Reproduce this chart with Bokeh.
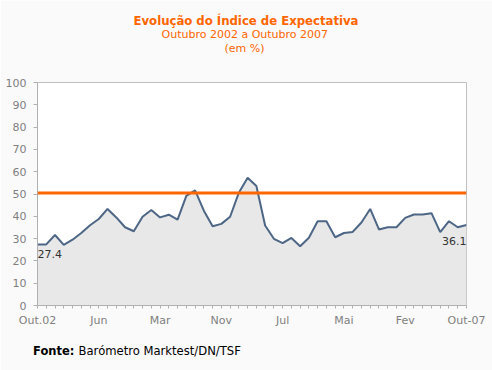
from bokeh.plotting import figure
from bokeh.models import FixedTicker, Span, Title, ColumnDataSource, LinearAxis
from bokeh.core.properties import value
from bokeh.embed import file_html
from bokeh.resources import INLINE

# ---- data ----
values = [27.4, 27.4, 31.6, 27.2, 29.5, 32.5, 36.0, 38.8, 43.3, 39.5,
          35.1, 33.3, 39.8, 42.8, 39.5, 40.7, 38.5, 49.2, 51.6, 42.5,
          35.5, 36.6, 39.8, 50.6, 57.3, 53.6, 35.9, 29.9, 28.0, 30.3,
          26.6, 30.4, 37.8, 37.8, 30.6, 32.5, 33.0, 37.2, 43.3, 34.1,
          35.1, 35.1, 39.3, 40.8, 40.8, 41.4, 32.9, 37.8, 35.1, 36.1]
x_idx = list(range(len(values)))
tick_label_idx = [0, 7, 14, 21, 28, 35, 42, 49]
tick_labels = ["Out.02", "Jun", "Mar", "Nov", "Jul", "Mai", "Fev", "Out-07"]
reference_level = 50.4
y_ticks = list(range(0, 101, 10))

title_text = "Evolução do Índice de Expectativa"
subtitle_text = "Outubro 2002 a Outubro 2007"
unit_text = "(em %)"
source_bold = "Fonte:"
source_text = "Barómetro Marktest/DN/TSF"

FONT = "DejaVu Sans"
ORANGE = "#FF6600"
GRAY = "#7F7F7F"

p = figure(width=492, height=370, output_backend="svg", toolbar_location=None,
           title=None, x_range=(0, len(values) - 1), y_range=(0, 100),
           min_border_left=37, min_border_right=26, min_border_top=82,
           min_border_bottom=65)
p.background_fill_color = "white"
p.border_fill_color = "#FAFAFA"
p.outline_line_color = "#C0C0C0"
p.outline_line_width = 1
p.xgrid.visible = False
p.ygrid.visible = False

src = ColumnDataSource(dict(x=x_idx, y=values, base=[0] * len(values)))
p.varea(x="x", y1="base", y2="y", source=src, fill_color="#E8E8E8")
p.add_layout(Span(location=reference_level, dimension="width",
                  line_color=ORANGE, line_width=3))
p.line(x="x", y="y", source=src, line_color="#4D6686", line_width=2)

# data labels for first and last value
lab_src = ColumnDataSource(dict(
    x=[x_idx[0], x_idx[-1]], y=[values[0], values[-1]],
    t=[f"{values[0]:.1f}", f"{values[-1]:.1f}"],
    align=["left", "right"], dy=[6, 12]))
p.text(x="x", y="y", text="t", source=lab_src, text_align="align",
       text_baseline="top", y_offset="dy",
       text_font=value(FONT), text_font_size="11px", text_color="#333333")

# axes
xa = p.xaxis[0]
xa.ticker = FixedTicker(ticks=x_idx, minor_ticks=[])
overrides = {i: "" for i in x_idx}
for i, t in zip(tick_label_idx, tick_labels):
    overrides[i] = t
xa.major_label_overrides = overrides
xa.major_tick_in = 0
xa.major_tick_out = 3
xa.major_label_standoff = 5
ya = p.yaxis[0]
ya.ticker = FixedTicker(ticks=y_ticks, minor_ticks=[])
ya.major_tick_in = 0
ya.major_tick_out = 4
ya.major_label_standoff = 7
for ax in (xa, ya):
    ax.axis_line_color = "#B0B0B0"
    ax.major_tick_line_color = "#B0B0B0"
    ax.minor_tick_line_color = None
    ax.major_label_text_color = GRAY
    ax.major_label_text_font = FONT
    ax.major_label_text_font_size = "11px"

# titles (closest to the frame first); a blank title acts as spacer
p.add_layout(Title(text=" ", standoff=13, text_font=FONT,
                   text_font_size="11px"), "above")
for txt, style, size, off, so in [(unit_text, "normal", "11px", 187, -1),
                                  (subtitle_text, "normal", "11px", 124, -1),
                                  (title_text, "bold", "11.7px", 96, -2)]:
    p.add_layout(Title(text=txt, align="left", offset=off, standoff=so,
                       text_color=ORANGE, text_font=FONT,
                       text_font_size=size, text_font_style=style), "above")

# source note, drawn as label-only axes on one line
fonte_pos = 1.85
source_pos = 13.96
for txt, pos, style, size, so in [(source_bold, fonte_pos, "bold", "11.5px", 14),
                                  (source_text, source_pos, "normal", "11.6px", -17)]:
    ax = LinearAxis(ticker=FixedTicker(ticks=[pos], minor_ticks=[]),
                    major_label_overrides={pos: txt})
    ax.axis_line_color = None
    ax.major_tick_line_color = None
    ax.minor_tick_line_color = None
    ax.major_tick_in = 0
    ax.major_tick_out = 0
    ax.major_label_standoff = so
    ax.major_label_text_color = "black"
    ax.major_label_text_font = FONT
    ax.major_label_text_font_size = size
    ax.major_label_text_font_style = style
    p.add_layout(ax, "below")

open("out.html", "w").write(file_html(p, INLINE))
